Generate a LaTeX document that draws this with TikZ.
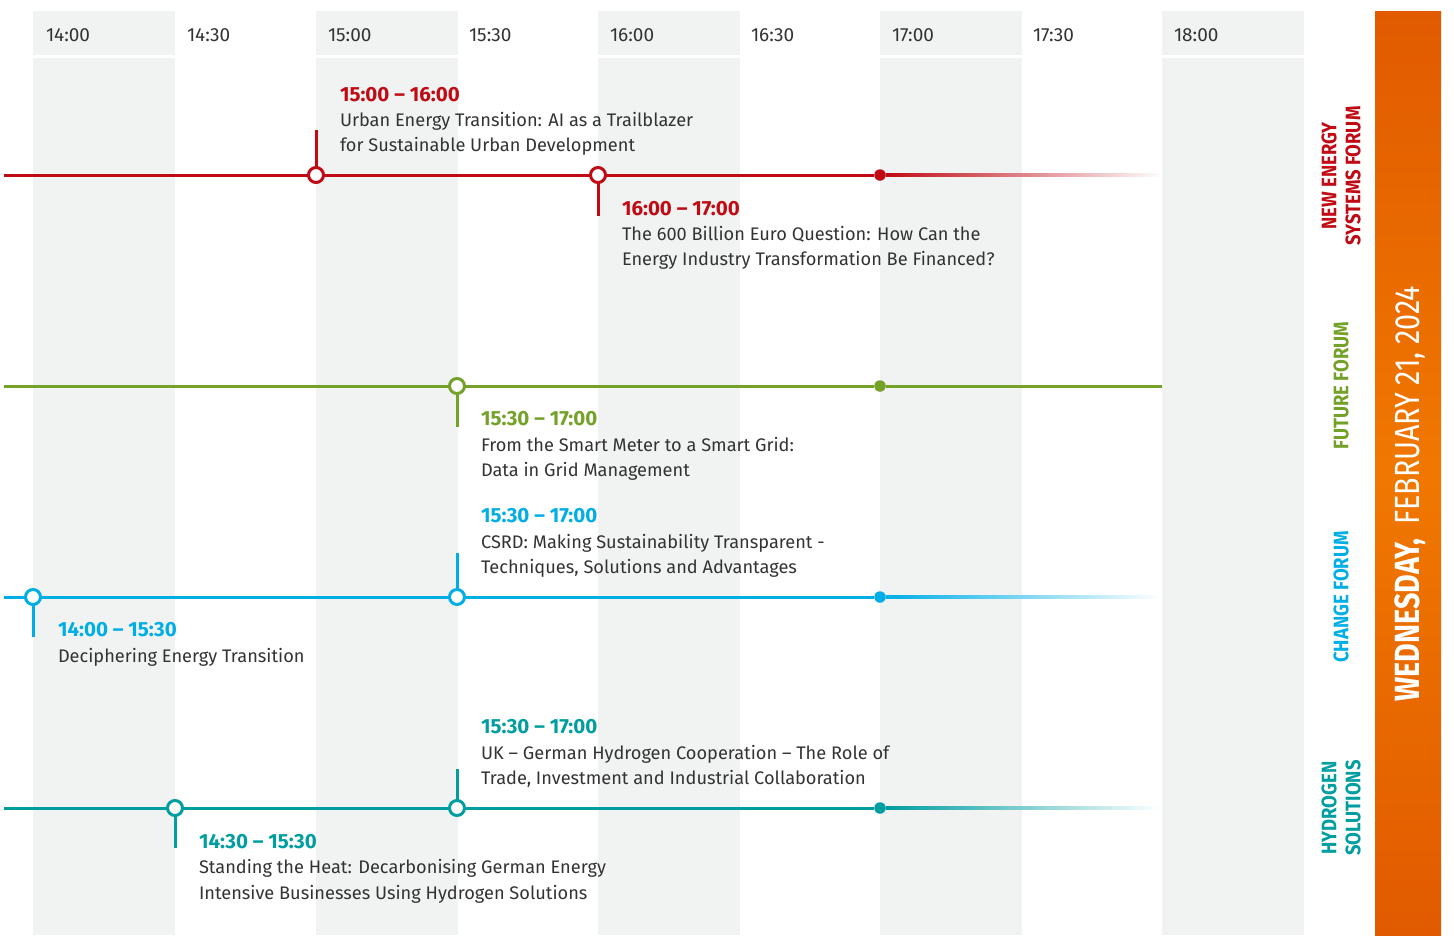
\documentclass[tikz,border=0pt]{standalone}
\usepackage{fontspec}
\setmainfont{Fira Sans}
\newfontfamily\forumfont{Fira Sans}[FakeStretch=0.88]
\newfontfamily\datefont{Fira Sans}[FakeStretch=0.82]
\definecolor{cred}{RGB}{192,10,20}
\definecolor{cgreen}{RGB}{116,161,40}
\definecolor{ccyan}{RGB}{0,174,230}
\definecolor{cteal}{RGB}{0,158,160}
\definecolor{colgray}{RGB}{241,242,242}
\definecolor{txt}{RGB}{51,51,51}
\definecolor{orA}{RGB}{225,90,0}
\definecolor{orB}{RGB}{240,120,0}
\begin{document}
\begin{tikzpicture}[x=1pt,y=-1pt,
  every node/.style={inner sep=0pt, outer sep=0pt},
  col/.style={fill=colgray, draw=none},
  hdr/.style={anchor=base west, font=\fontsize{19}{21}\selectfont, text=txt},
  tm/.style={anchor=base west, font=\bfseries\fontsize{20.5}{22}\selectfont},
  ttl/.style={anchor=base west, font=\fontsize{18.2}{22}\selectfont, text=txt},
  track/.style={line width=3pt},
  ring/.style={circle, draw, fill=white, line width=3pt, minimum size=15pt},
  dot/.style={circle, fill, minimum size=11.5pt},
  tick/.style={line width=3pt},
  forum/.style={rotate=90, align=center, font=\forumfont\bfseries\fontsize{21}{24}\selectfont}
]
\fill[white] (0,0) rectangle (1454,935);
\useasboundingbox (0,0) rectangle (1454,935);

% columns
\foreach \x in {33,316,598,880,1162}{
  \fill[col] (\x,11) rectangle ++(142,44);
  \fill[col] (\x,58) rectangle ++(142,877);
}
% header labels
\node[hdr] (h1) at (46,41) {14:00};
\node[hdr] (h2) at (187,41) {14:30};
\node[hdr] (h3) at (328,41) {15:00};
\node[hdr] (h4) at (469,41) {15:30};
\node[hdr] (h5) at (610,41) {16:00};
\node[hdr] (h6) at (751,41) {16:30};
\node[hdr] (h7) at (892,41) {17:00};
\node[hdr] (h8) at (1033,41) {17:30};
\node[hdr] (h9) at (1174,41) {18:00};

% ---------- red track ----------
\coordinate (rs) at (4,175);
\coordinate (re) at (1162,175);
\node[ring, draw=cred] (r1) at (316,175) {};
\node[ring, draw=cred] (r2) at (598,175) {};
\node[dot, fill=cred] (r3) at (880,175) {};
\coordinate (r1t) at (316,130);
\coordinate (r2t) at (598,216);
\draw[track, cred] (rs) -- (r1) -- (r2) -- (r3);
\shade[left color=cred, right color=white] ([yshift=1.5pt]r3.east) rectangle ([yshift=-1.5pt]re);
\draw[tick, cred] (r1.north) -- (r1t);
\draw[tick, cred] (r2.south) -- (r2t);

% ---------- green track ----------
\coordinate (gs) at (4,386);
\coordinate (ge) at (1162,386);
\node[ring, draw=cgreen] (g1) at (457,386) {};
\node[dot, fill=cgreen] (g2) at (880,386) {};
\coordinate (g1t) at (457,427);
\draw[track, cgreen] (gs) -- (g1) -- (g2) -- (ge);
\draw[tick, cgreen] (g1.south) -- (g1t);

% ---------- cyan track ----------
\coordinate (cs) at (4,597);
\coordinate (ce) at (1162,597);
\node[ring, draw=ccyan] (c1) at (33,597) {};
\node[ring, draw=ccyan] (c2) at (457,597) {};
\node[dot, fill=ccyan] (c3) at (880,597) {};
\coordinate (c1t) at (33,637);
\coordinate (c2t) at (457,553);
\draw[track, ccyan] (cs) -- (c1) -- (c2) -- (c3);
\shade[left color=ccyan, right color=white] ([yshift=1.5pt]c3.east) rectangle ([yshift=-1.5pt]ce);
\draw[tick, ccyan] (c1.south) -- (c1t);
\draw[tick, ccyan] (c2.north) -- (c2t);

% ---------- teal track ----------
\coordinate (ts) at (4,808);
\coordinate (te) at (1162,808);
\node[ring, draw=cteal] (t1) at (175,808) {};
\node[ring, draw=cteal] (t2) at (457,808) {};
\node[dot, fill=cteal] (t3) at (880,808) {};
\coordinate (t1t) at (175,848);
\coordinate (t2t) at (457,769);
\draw[track, cteal] (ts) -- (t1) -- (t2) -- (t3);
\shade[left color=cteal, right color=white] ([yshift=1.5pt]t3.east) rectangle ([yshift=-1.5pt]te);
\draw[tick, cteal] (t1.south) -- (t1t);
\draw[tick, cteal] (t2.north) -- (t2t);

% ---------- event texts ----------
\node[tm, text=cred] (e1t) at (340,101.5) {15:00 – 16:00};
\node[ttl] (e1a) at (340,126) {Urban Energy Transition: AI as a Trailblazer};
\node[ttl] (e1b) at (340,151.5) {for Sustainable Urban Development};

\node[tm, text=cred] (e2t) at (622,215) {16:00 – 17:00};
\node[ttl] (e2a) at (622,240.5) {The 600 Billion Euro Question: How Can the};
\node[ttl] (e2b) at (622,265.5) {Energy Industry Transformation Be Financed?};

\node[tm, text=cgreen] (e3t) at (481,425) {15:30 – 17:00};
\node[ttl] (e3a) at (481,451.5) {From the Smart Meter to a Smart Grid:};
\node[ttl] (e3b) at (481,476.5) {Data in Grid Management};

\node[tm, text=ccyan] (e4t) at (481,522) {15:30 – 17:00};
\node[ttl] (e4a) at (481,548.5) {CSRD: Making Sustainability Transparent -};
\node[ttl] (e4b) at (481,573.5) {Techniques, Solutions and Advantages};

\node[tm, text=ccyan] (e5t) at (58,636) {14:00 – 15:30};
\node[ttl] (e5a) at (58,662.5) {Deciphering Energy Transition};

\node[tm, text=cteal] (e6t) at (481,733) {15:30 – 17:00};
\node[ttl] (e6a) at (481,759.5) {UK – German Hydrogen Cooperation – The Role of};
\node[ttl] (e6b) at (481,784.5) {Trade, Investment and Industrial Collaboration};

\node[tm, text=cteal] (e7t) at (199,848) {14:30 – 15:30};
\node[ttl] (e7a) at (199,873.5) {Standing the Heat: Decarbonising German Energy};
\node[ttl] (e7b) at (199,899.5) {Intensive Businesses Using Hydrogen Solutions};

% ---------- forum labels ----------
\node[forum, text=cred] (f1) at (1341,176) {NEW ENERGY\\SYSTEMS FORUM};
\node[forum, text=cgreen] (f2) at (1341,386) {FUTURE FORUM};
\node[forum, text=ccyan] (f3) at (1341,597) {CHANGE FORUM};
\node[forum, text=cteal] (f4) at (1341,808) {HYDROGEN\\SOLUTIONS};

% ---------- date band ----------
\shade[top color=orA, bottom color=orA, middle color=orB] (1375,11) rectangle (1441,935);
\node[rotate=90, text=white, font=\datefont\fontsize{35}{37}\selectfont] (date) at (1410,494)
  {\bfseries WEDNESDAY,\hspace{0.4em}\mdseries FEBRUARY 21, 2024};
\end{tikzpicture}
\end{document}
